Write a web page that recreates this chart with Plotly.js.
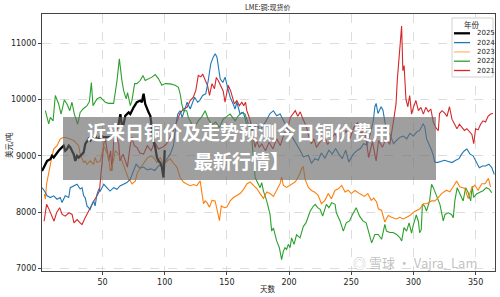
<!DOCTYPE html>
<html><head><meta charset="utf-8">
<script src="https://cdn.plot.ly/plotly-3.0.1.min.js"></script>
<style>html,body{margin:0;padding:0;background:#fff}#chart{width:500px;height:297px}</style>
</head><body><div id="chart"></div>
<script>
// ---------------- data ----------------
const seriesNames = ['2025', '2024', '2023', '2022', '2021'];
const xTicks = [50, 100, 150, 200, 250, 300, 350];
const yTicks = [7000, 8000, 9000, 10000, 11000];

const days2025 = [1.3,2.7,4,5.4,8,9.4,10.7,13.4,14.7,16,17.4,18.7,20,21.4,22.8,24.1,25.4,26.8,28.1,29.5,30.8,32.1,33.5,34.8,36.1,37.5,38.8,40.2,41.5,42.8,44.2,46,48.5,51,53.5,56.2,58.9,60.2,61.6,62.9,64.3,65.6,66.9,68.3,69.6,71,72.3,73.6,75,77.6,80.3,81.6,83,84.3,85.7,87,88.4,89.7,91,92.4,93.7,95,96.4,97.7,99,100];
const price2025 = [8730,8790,8850,8910,8940,9000,8970,9060,9090,9120,9150,9180,9090,9120,9180,9150,9090,9030,8910,9000,8970,9000,9030,9060,9210,9270,9300,9270,9330,9300,9355,9270,9360,9330,9330,9330,9360,9450,9500,9560,9740,9530,9560,9710,9740,9770,9740,9800,9860,9950,9980,9950,10100,9920,9830,9770,9710,9500,9260,9150,8970,8910,8880,8800,8615,9100];

const days2024 = [1.3,3.2,5.4,8,10.7,13.4,16,17.4,20,22.8,24,26.8,29.5,32,33.5,34.8,36,37.5,40,41.5,42.8,44,45.5,47,48.2,51,53.5,56,59,61.6,64,67,69.6,72.3,75,77,80,83,86,89,92,95,98,101,104.4,107,109,110.5,112.4,114,116.7,118,120.5,122,124,126.5,128,130.5,133,135,137,139,140.6,142,143.5,144.6,146.7,148.6,150.5,152.6,155,156.5,158,159.5,160.6,163,164.5,166,168.7,170,172,174,176.7,178,181,184.7,187.4,190,192.8,195.4,198,200.8,203.5,206,208.8,211.5,215.5,218,220.7,223.4,226,228.8,232,234.8,237.4,240,242.8,245.5,248,249.5,252,255,257.4,260,262.7,265.4,267.8,269,270,271.5,273,274,275.5,277,278.2,281,284,286.6,289.3,292,294.6,297.2,300,302.5,305,307.9,309.2,310.6,312,313.2,314.6,315.9,317.2,319,322,325,328,331,334,336.7,338.7,341,343,345.5,348,350.5,353,355.5,358,360.7,363,365];
const price2024 = [8435,8380,8290,8260,8290,8230,8260,8170,8290,8260,8435,8465,8495,8410,8435,8290,8260,8110,8050,8140,8200,8110,8315,8405,8375,8495,8435,8375,8435,8405,8465,8495,8525,8585,8730,8850,8780,8800,8750,8770,8740,8820,8850,8920,9030,9180,9560,9740,9800,9680,9860,9950,9830,9920,10040,9950,9980,10070,10100,10335,10630,10750,10810,10750,10480,10365,10300,10395,10215,10040,9920,9830,9950,9830,9740,9770,9680,9535,9560,9470,9500,9560,9450,9500,9600,9750,9800,9710,9740,9630,9510,9395,9300,9215,9100,8980,9010,8865,8950,8920,9050,8960,9100,9030,9130,9030,8950,9100,8890,8950,9040,9100,9130,9215,9190,9395,9630,9870,9930,9750,9840,9870,9810,9630,9450,9390,9215,9280,9330,9350,9300,9400,9350,9420,9450,9570,9510,9300,9240,9160,9100,9010,8890,8880,8900,8920,8900,8880,8920,8950,9030,9090,9120,9030,9000,8880,8790,8820,8820,8850,8790,8670];

const days2023 = [3.2,4,5,6.7,8.5,10.7,13.4,16,18.7,21.4,24,26.8,29.5,30.8,32,33.5,34.8,36,37.5,40,42.8,44,45.5,48.2,50.9,52.2,54.9,56.2,58.4,60.2,62.9,65.6,68.3,71,72.3,73.6,76.3,78,80.3,83,85.6,88.4,91,93.7,96.4,99,101.7,104.4,107,109.8,112.4,115,117.7,120.5,123.2,125.8,128.5,131.2,132.5,134,136,138,140.5,143,144,145.5,148,150,152.6,155.3,158,160.6,163.3,166,168.7,171.4,174,176.7,179.4,182,184.7,187.4,190,192.8,194,195.4,198,200.8,204.8,206,208.8,210.2,211.5,212.8,215.5,218,220.7,223.4,226,228.8,231.5,234,236.9,239.6,242.3,245,247.5,250,253,256.6,260.6,263.3,266,268,270.4,271.8,274.4,277,279.7,282.4,286.4,289,291.8,294.5,297.2,300,302.5,305.2,308,310.6,314.6,317.3,320,322.6,326.6,329.3,332,334.7,337.3,341.4,344,346.7,349.4,352,355,357.6,360.3,362];
const price2023 = [8320,8230,8500,8730,8900,9120,9180,9300,9330,9320,9300,9270,9210,9180,9030,8940,8880,8910,8850,8910,8850,8970,8880,8910,9180,9120,8970,8730,8880,9090,9030,8910,8730,8585,8555,8500,8550,8700,8780,8870,8950,9000,8970,8880,8970,8850,8900,8950,8870,8800,8615,8535,8500,8470,8490,8470,8555,8150,8200,8170,8090,8210,8200,7900,7850,8110,8080,8090,8200,8260,8290,8330,8400,8500,8535,8480,8420,8330,8245,8360,8330,8280,8390,8510,8620,8475,8440,8475,8535,8570,8690,8780,8800,8590,8440,8385,8355,8300,8150,8210,8330,8240,8385,8415,8475,8360,8390,8330,8385,8330,8280,8330,8210,8250,8180,8060,8030,7825,7940,7910,7880,7910,7880,7910,7940,8000,8030,8060,8150,8150,8200,8200,8260,8330,8390,8360,8450,8555,8450,8420,8240,8420,8480,8390,8505,8505,8600,8450];

const days2022 = [4,6.7,8,10.2,12,14.7,16.6,19.3,21.4,23.6,25.4,27.3,30,32,34.3,37.5,39.4,41,42.3,43.6,45.5,48.2,52.2,54.9,58.9,61.6,63.5,65.6,67,69,70.1,72.3,73.6,75.8,77.6,80.3,82.5,84.3,87,89.7,92.4,95,97.7,100.4,104.4,108.4,111,112.4,113.7,115,117.7,119,121.8,124,127,130,132.5,135,138,141,144,147,150,152.6,156.6,159.2,162,164.6,167.3,170,172.7,174,176.7,178,179.4,182,184.7,186,187.4,188.7,190,192.2,194,195.4,196.7,198,199.4,200.8,202,204,206,208.8,211.5,213.6,215.5,217,219.6,221,223,225,227,230,232,234.3,237,238,241,243.6,246,248.6,251,254,256.7,259.4,262,264,266.4,269,271.7,274.4,277,278.3,281,283.7,286.4,289,290.6,292.4,294.5,296.5,298.5,300,302.3,304,305,306.3,307.2,309,310.5,313,314.6,316,318.6,321.3,324,325.4,328,330.6,332,333.3,335.2,337.3,340,342,344,346,347.3,348.4,350.5,353,356,358.6,361,363];
const price2022 = [9800,9565,9680,9620,10070,9920,9740,9990,9920,9800,9950,9740,9560,9770,9830,9890,9960,10300,9890,9950,10010,10040,9950,9930,9930,10330,10720,10330,10150,10010,10120,9890,9980,10280,10280,10335,10425,10335,10365,10395,10440,10365,10250,10280,10275,10250,10215,10100,9920,9800,9800,9680,9560,9500,9620,9700,9800,9650,9550,9600,9500,9650,9700,9740,9620,9710,9770,9740,9560,9300,8615,8555,8435,8525,8375,8200,7960,7665,7720,7605,7490,7370,7160,7310,7370,7340,7430,7370,7545,7430,7600,7545,7750,7810,7930,8020,8110,8140,8080,8050,7930,8140,8080,8170,8140,7990,7845,7665,7810,7845,7960,8080,7930,7845,7810,7665,7455,7605,7605,7520,7785,7665,7640,7640,7605,7550,7490,7725,7665,7810,7630,7780,7950,7835,7635,7690,8140,8110,8020,8200,8495,8435,8290,8140,7845,7960,7990,7960,7900,8200,8435,8320,8200,8435,8350,8200,8465,8260,8320,8350,8380,8435,8410,8345];

const days2021 = [3,5,7,9,11,13,15.5,17.5,20,23,25.5,27,29.5,32,33.5,36,38,40,43,45.5,47.5,48.7,50,51,52,53.5,55,56.5,57.5,59,61,63,64,66.5,68,70,72,73.6,75.5,77.6,80,83,86,89,92,95,98,101,104.4,107,109,112,115,118,120.5,123,125,127,129,130.5,132.5,134.5,136,138,140,141.5,143,145,147,148.5,151,153,154.5,156,158,160,162,163.5,165,166,168,169.5,171,172.7,174,176,178,181,184,187,190,193,196,199,201,203,205,207,209,211,214,216,218,220,222,225,228,231,234,237,240,243,246,249,252,255,258,261,264,267,270,272,275,278,281,284,286,287,288.7,289.7,290.5,291.5,292.5,294,295.5,297,298.5,300,302,304,306,308,310,312,314,316,318,320,321,323,325,327,329,331,333,335,337,339,341,343,345,347,348.5,350,352,354,356,358,360,362,364];
const price2021 = [7840,8140,8050,7960,7840,7990,8080,7960,7930,7990,7960,7810,7870,7810,7780,7900,7990,8080,8200,8290,8375,8670,9030,9210,9330,9090,8910,9090,8730,9270,9360,9210,8910,9030,8910,8800,9150,9330,9180,9150,9050,9030,9180,9090,9240,9120,9150,9200,9330,9450,9560,9740,9830,9860,9980,10040,10160,10425,10400,10450,10360,10240,10070,10280,10190,10390,10335,10250,10150,9950,10250,10150,10040,9920,9980,9890,9950,9890,9950,9800,9680,9560,9330,9150,9270,9150,9210,9090,9240,9120,9300,9180,9390,9500,9680,9750,9800,9700,9780,9660,9510,9330,9215,9300,9150,9250,9350,9200,9300,9400,9250,9350,9450,9300,9500,9590,9400,9450,8970,9250,8910,9270,9150,9300,9200,9620,9920,10335,10810,11165,11300,10510,10600,10000,9870,10070,9740,9860,9980,9800,9860,9740,9860,9780,9830,9600,9500,9445,9750,9800,9760,9700,9870,9650,9560,9480,9560,9500,9450,9480,9420,9380,9215,9480,9460,9560,9620,9600,9700,9740,9750];

// ---------------- styling ----------------
const lineStyle = {
  '2025': {color: '#000000', width: 2.3},
  '2024': {color: '#1f77b4', width: 1.1},
  '2023': {color: '#ff7f0e', width: 1.1},
  '2022': {color: '#2ca02c', width: 1.1},
  '2021': {color: '#d62728', width: 1.1}
};
const seriesData = {
  '2025': [days2025, price2025],
  '2024': [days2024, price2024],
  '2023': [days2023, price2023],
  '2022': [days2022, price2022],
  '2021': [days2021, price2021]
};

const drawOrder = ['2021', '2022', '2023', '2024', '2025'];
const traces = drawOrder.map(name => ({
  type: 'scatter', mode: 'lines', name: name,
  x: seriesData[name][0], y: seriesData[name][1],
  line: {color: lineStyle[name].color, width: lineStyle[name].width},
  showlegend: false, hoverinfo: 'skip'
}));

// plot area in pixels
const L = 42, R = 495, T = 14, B = 271;
const px = v => (v - L) / (R - L);
const py = v => (B - v) / (B - T);

const numFont = 'DejaVu Sans, Noto Sans CJK SC, sans-serif';
const cjkFont = 'Noto Sans CJK SC, DejaVu Sans, sans-serif';

const shapes = [];
const annotations = [];

// grey overlay banner with two separately placed lines of text
shapes.push({type: 'rect', xref: 'paper', yref: 'paper', layer: 'above',
  x0: px(63), x1: px(436), y0: py(180), y1: py(117),
  fillcolor: 'rgba(105,105,105,0.64)', line: {width: 0}});
const bannerLines = ['近来日铜价及走势预测今日铜价费用', '最新行情】'];
const bannerY = [131.8, 160.2];
bannerLines.forEach((t, i) => {
  annotations.push({xref: 'paper', yref: 'paper', x: px(i === 0 ? 239 : 241), y: py(bannerY[i]),
    xanchor: 'center', yanchor: 'middle', showarrow: false, borderpad: 0,
    text: '<b>' + t + '</b>',
    font: {family: cjkFont, size: 19, color: '#ffffff'}});
});

// legend box
shapes.push({type: 'rect', xref: 'paper', yref: 'paper', layer: 'above',
  x0: px(452), x1: px(493), y0: py(77), y1: py(18),
  fillcolor: 'rgba(255,255,255,0.92)', line: {color: '#d0d0d0', width: 1}});
annotations.push({xref: 'paper', yref: 'paper', x: px(472), y: py(24.5),
  xanchor: 'center', yanchor: 'middle', showarrow: false, text: '年份',
  font: {family: cjkFont, size: 7.5, color: '#222'}});
const legendY = [33.3, 42.6, 51.9, 61.2, 70.5];
seriesNames.forEach((name, i) => {
  const yy = legendY[i];
  shapes.push({type: 'line', xref: 'paper', yref: 'paper', layer: 'above',
    x0: px(454), x1: px(470), y0: py(yy), y1: py(yy),
    line: {color: name === '2023' ? 'rgba(255,127,14,0.55)' : lineStyle[name].color,
           width: name === '2025' ? 2.3 : 1.3}});
  annotations.push({xref: 'paper', yref: 'paper', x: px(475), y: py(yy),
    xanchor: 'left', yanchor: 'middle', showarrow: false, text: name,
    font: {family: numFont, size: 7, color: '#222'}});
});

// chart title and axis titles
annotations.push({xref: 'paper', yref: 'paper', x: px(268), y: py(7), xanchor: 'center', yanchor: 'middle',
  showarrow: false, text: 'LME:铜:现货价', font: {family: cjkFont, size: 7, color: '#222'}});
annotations.push({xref: 'paper', yref: 'paper', x: px(268), y: py(288.5), xanchor: 'center', yanchor: 'middle',
  showarrow: false, text: '天数', font: {family: cjkFont, size: 7.5, color: '#222'}});
annotations.push({xref: 'paper', yref: 'paper', x: px(8), y: py(145), xanchor: 'center', yanchor: 'middle',
  showarrow: false, textangle: -90, text: '美元/吨', font: {family: cjkFont, size: 7.5, color: '#222'}});

// watermark (kept just above the tick labels so texts do not collide)
annotations.push({xref: 'paper', yref: 'paper', x: px(415), y: py(262), xanchor: 'center', yanchor: 'middle',
  showarrow: false, text: '◎ 雪球 · Vajra_Lam', font: {family: cjkFont, size: 13, color: 'rgba(140,140,140,0.55)'}});

const axisCommon = {
  showline: true, mirror: true, linecolor: '#444', linewidth: 1,
  ticks: 'outside', ticklen: 3, tickcolor: '#444', tickwidth: 1,
  showgrid: true, gridcolor: '#d4d4d4', griddash: 'dash', gridwidth: 0.8,
  zeroline: false, tickfont: {family: numFont, size: 8, color: '#222'}
};

const layout = {
  width: 500, height: 297,
  margin: {l: L, r: 500 - R, t: T, b: 297 - B, pad: 0},
  paper_bgcolor: '#ffffff', plot_bgcolor: '#ffffff',
  showlegend: false,
  xaxis: Object.assign({}, axisCommon, {range: [1.3, 365.6], tickmode: 'array', tickvals: xTicks,
    ticktext: xTicks.map(String)}),
  yaxis: Object.assign({}, axisCommon, {range: [6957, 11515], tickmode: 'array', tickvals: yTicks,
    ticktext: yTicks.map(String)}),
  shapes: shapes, annotations: annotations
};

Plotly.newPlot('chart', traces, layout, {staticPlot: true, displayModeBar: false});
</script>
</body></html>
